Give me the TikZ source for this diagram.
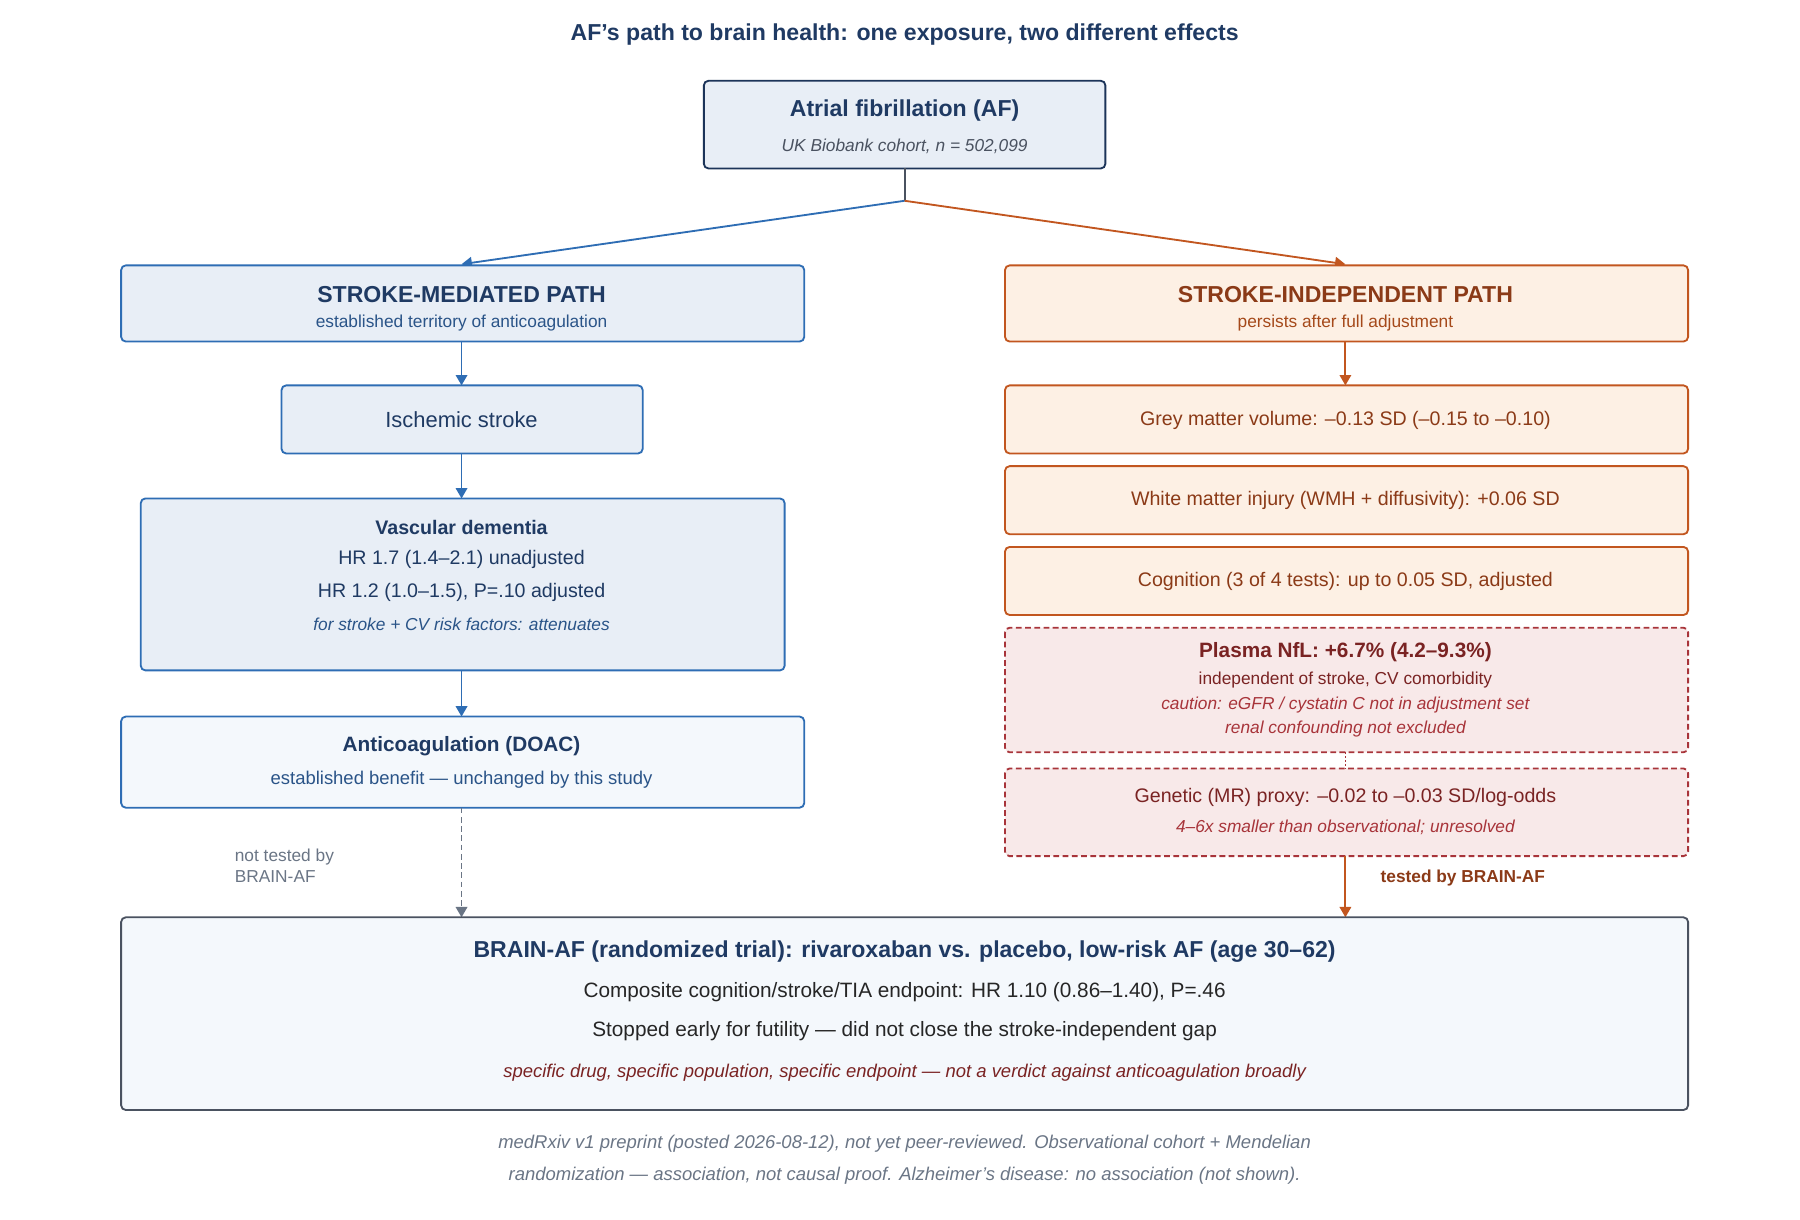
\documentclass[tikz,border=0pt]{standalone}
\usepackage{fontspec}
\setmainfont{Liberation Sans}
\usetikzlibrary{arrows.meta}
\definecolor{navy}{HTML}{1F3A63}
\definecolor{blu}{HTML}{2E6DB4}
\definecolor{blufill}{HTML}{E8EEF6}
\definecolor{blufill2}{HTML}{F4F8FC}
\definecolor{blutxt}{HTML}{2A5488}
\definecolor{ora}{HTML}{C2561F}
\definecolor{orafill}{HTML}{FDF0E4}
\definecolor{oratxt}{HTML}{8B3A17}
\definecolor{redd}{HTML}{A8343A}
\definecolor{redfill}{HTML}{F8E9E9}
\definecolor{redtxt}{HTML}{7A2323}
\definecolor{gry}{HTML}{4A5260}
\definecolor{gtxt}{HTML}{6A7585}
\begin{document}
\begin{tikzpicture}[x=1pt,y=-1pt,
 box/.style={draw,rounded corners=4pt,line width=1.6pt},
 bl/.style={box,draw=blu,fill=blufill},
 or/.style={box,draw=ora,fill=orafill},
 rd/.style={box,draw=redd,fill=redfill,dashed,dash pattern=on 5pt off 3pt},
 ba/.style={-{Triangle[length=9pt,width=10pt]},line width=1.6pt},
 t/.style={font=\fontsize{17}{20}\selectfont},
 s/.style={font=\fontsize{15}{18}\selectfont}]
\useasboundingbox (0,0) rectangle (1560,1057);
\node[font=\fontsize{20}{24}\selectfont\bfseries,text=navy] (title) at (784,30) {AF’s path to brain health: one exposure, two different effects};
% AF
\draw[box,draw=navy!90!black,fill=blufill] (610,70) rectangle (958,146);
\node[font=\fontsize{20}{24}\selectfont\bfseries,text=navy] (af) at (784,96) {Atrial fibrillation (AF)};
\node[s,font=\fontsize{15}{18}\selectfont\itshape,text=gry] (afs) at (784,127) {UK Biobank cohort, n = 502,099};
\coordinate (afb) at (784,146); \coordinate (j) at (784,174);
\coordinate (lt) at (400,229); \coordinate (rt) at (1166,229);
\draw[line width=1.6pt,gry] (afb)--(j);
\draw[ba,blu] (j)--(lt);
\draw[ba,ora] (j)--(rt);
% left
\draw[bl] (105,230) rectangle (697,296);
\node[font=\fontsize{20}{24}\selectfont\bfseries,text=navy] (sm) at (400,255) {STROKE-MEDIATED PATH};
\node[s,text=blutxt] (sms) at (400,280) {established territory of anticoagulation};
\draw[bl] (244,334) rectangle (557,393);
\node[font=\fontsize{19}{22}\selectfont,text=navy] (is) at (400,364) {Ischemic stroke};
\draw[bl] (122,432) rectangle (680,581);
\node[t,font=\fontsize{17}{20}\selectfont\bfseries,text=navy] (vd) at (400,457) {Vascular dementia};
\node[t,text=navy] (vd1) at (400,485) {HR 1.7 (1.4–2.1) unadjusted};
\node[t,text=navy] (vd2) at (400,513) {HR 1.2 (1.0–1.5), P=.10 adjusted};
\node[s,font=\fontsize{15}{18}\selectfont\itshape,text=blutxt] (vd3) at (400,541) {for stroke + CV risk factors: attenuates};
\draw[bl,fill=blufill2] (105,621) rectangle (697,700);
\node[t,font=\fontsize{18}{21}\selectfont\bfseries,text=navy] (ac) at (400,647) {Anticoagulation (DOAC)};
\node[t,font=\fontsize{16}{19}\selectfont,text=blutxt] (acs) at (400,676) {established benefit — unchanged by this study};
\coordinate (a1) at (400,296); \coordinate (a2) at (400,334);
\coordinate (a3) at (400,393); \coordinate (a4) at (400,432);
\coordinate (a5) at (400,581); \coordinate (a6) at (400,621);
\coordinate (a7) at (400,700); \coordinate (a8) at (400,795);
\draw[ba,blu] (a1)--(a2); \draw[ba,blu] (a3)--(a4); \draw[ba,blu] (a5)--(a6);
\draw[ba,gtxt,dashed,dash pattern=on 5pt off 3pt] (a7)--(a8);
\node[s,text=gtxt,align=left,anchor=west] (nt) at (200,750) {not tested by\\BRAIN-AF};
% right
\draw[or] (871,230) rectangle (1463,296);
\node[font=\fontsize{20}{24}\selectfont\bfseries,text=oratxt] (si) at (1166,255) {STROKE-INDEPENDENT PATH};
\node[s,text=ora!85!black] (sis) at (1166,280) {persists after full adjustment};
\draw[or] (871,334) rectangle (1463,393);
\node[t,text=oratxt] (gm) at (1166,364) {Grey matter volume: –0.13 SD (–0.15 to –0.10)};
\draw[or] (871,404) rectangle (1463,463);
\node[t,text=oratxt] (wm) at (1166,434) {White matter injury (WMH + diffusivity): +0.06 SD};
\draw[or] (871,474) rectangle (1463,533);
\node[t,text=oratxt] (cg) at (1166,504) {Cognition (3 of 4 tests): up to 0.05 SD, adjusted};
\draw[rd] (871,544) rectangle (1463,652);
\node[t,font=\fontsize{18}{21}\selectfont\bfseries,text=redtxt] (nf) at (1166,565) {Plasma NfL: +6.7\% (4.2–9.3\%)};
\node[s,text=redtxt] (nf1) at (1166,589) {independent of stroke, CV comorbidity};
\node[s,font=\fontsize{15}{18}\selectfont\itshape,text=redd] (nf2) at (1166,611) {caution: eGFR / cystatin C not in adjustment set};
\node[s,font=\fontsize{15}{18}\selectfont\itshape,text=redd] (nf3) at (1166,632) {renal confounding not excluded};
\draw[rd] (871,666) rectangle (1463,742);
\node[t,text=redtxt] (mr) at (1166,691) {Genetic (MR) proxy: –0.02 to –0.03 SD/log-odds};
\node[s,font=\fontsize{15}{18}\selectfont\itshape,text=redd] (mr1) at (1166,717) {4–6x smaller than observational; unresolved};
\coordinate (b1) at (1166,296); \coordinate (b2) at (1166,334);
\coordinate (b3) at (1166,652); \coordinate (b4) at (1166,666);
\coordinate (b5) at (1166,742); \coordinate (b6) at (1166,795);
\draw[ba,ora] (b1)--(b2);
\draw[redd,line width=1.4pt,dotted] (b3)--(b4);
\draw[ba,ora] (b5)--(b6);
\node[s,font=\fontsize{15}{18}\selectfont\bfseries,text=oratxt,anchor=west] (tb) at (1193,761) {tested by BRAIN-AF};
% bottom
\draw[box,draw=gry,fill=blufill2] (105,795) rectangle (1463,962);
\node[font=\fontsize{20}{24}\selectfont\bfseries,text=navy] (br) at (784,825) {BRAIN-AF (randomized trial): rivaroxaban vs. placebo, low-risk AF (age 30–62)};
\node[font=\fontsize{18}{21}\selectfont,text=black!85] (br1) at (784,860) {Composite cognition/stroke/TIA endpoint: HR 1.10 (0.86–1.40), P=.46};
\node[font=\fontsize{18}{21}\selectfont,text=black!85] (br2) at (784,894) {Stopped early for futility — did not close the stroke-independent gap};
\node[font=\fontsize{16}{19}\selectfont\itshape,text=redtxt] (br3) at (784,930) {specific drug, specific population, specific endpoint — not a verdict against anticoagulation broadly};
\node[font=\fontsize{16}{19}\selectfont\itshape,text=gtxt] (f1) at (784,991) {medRxiv v1 preprint (posted 2026-08-12), not yet peer-reviewed. Observational cohort + Mendelian};
\node[font=\fontsize{16}{19}\selectfont\itshape,text=gtxt] (f2) at (784,1019) {randomization — association, not causal proof. Alzheimer’s disease: no association (not shown).};
\end{tikzpicture}
\end{document}
